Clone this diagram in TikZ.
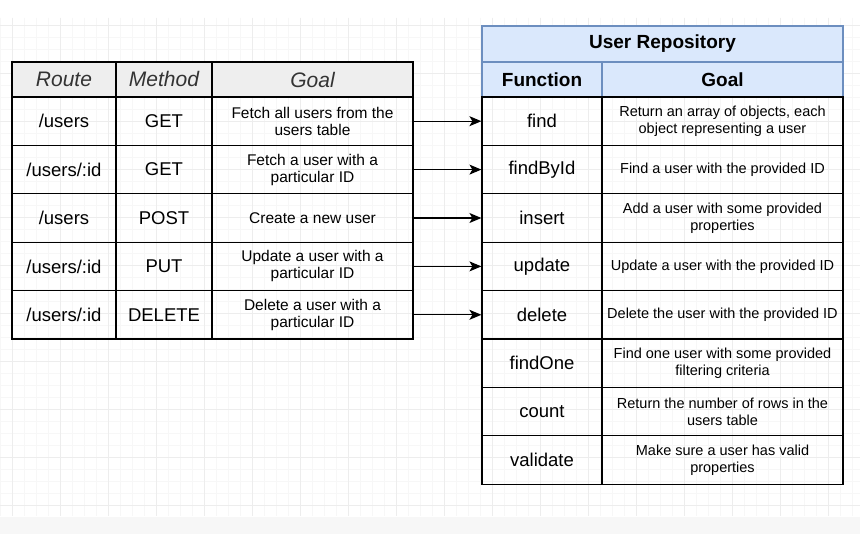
\documentclass[tikz,border=0pt]{standalone}
\usepackage{fontspec}
\setmainfont{Liberation Sans}
\usetikzlibrary{arrows.meta}
\definecolor{gridminor}{HTML}{F7F7F7}
\definecolor{gridmajor}{HTML}{EDEDED}
\definecolor{headgrey}{HTML}{EEEEEE}
\definecolor{headtext}{HTML}{333333}
\definecolor{repofill}{HTML}{DAE8FC}
\definecolor{repoline}{HTML}{6C8EBF}
\tikzset{
  cell/.style={draw, line width=1.2pt, inner sep=0pt, minimum height=48.4pt, align=center,
    font=\fontsize{18.5}{21}\selectfont},
  goalcell/.style={cell, font=\fontsize{15.5}{17}\selectfont},
  repogoal/.style={cell, font=\fontsize{14.5}{17}\selectfont},
  routehead/.style={draw, line width=1.2pt, fill=headgrey, inner sep=0pt, minimum height=35pt,
    text=headtext, font=\fontsize{21}{25}\selectfont\itshape},
  repohead/.style={draw=repoline, line width=1.2pt, fill=repofill, inner sep=0pt, minimum height=35pt,
    font=\fontsize{19}{23}\selectfont\bfseries},
  link/.style={draw, line width=1.2pt, -{Stealth[length=12pt,width=10pt,inset=3pt]}}
}
\begin{document}
\begin{tikzpicture}[x=1pt,y=-1pt]
\useasboundingbox (0,0) rectangle (860,534);
\fill[white] (0,0) rectangle (860,534);
\foreach \x in {0,12,...,860} \draw[gridminor,line width=0.8pt] (\x,18) -- (\x,516);
\foreach \y in {25,37,...,516} \draw[gridminor,line width=0.8pt] (0,\y) -- (860,\y);
\foreach \x in {12,60,...,860} \draw[gridmajor,line width=0.8pt] (\x,18) -- (\x,516);
\foreach \y in {25,73,...,516} \draw[gridmajor,line width=0.8pt] (0,\y) -- (860,\y);
\fill[headgrey!50] (0,517) rectangle (860,534);

% routes table
\node[routehead, minimum width=104pt] (hroute) at (64,79.5) {Route};
\node[routehead, minimum width=96pt] (hmethod) at (164,79.5) {Method};
\node[routehead, minimum width=201pt] (hgoal) at (312.5,79.5) {Goal};

\node[cell, minimum width=104pt] (r1) at (64,121.2) {/users};
\node[cell, minimum width=96pt] (m1) at (164,121.2) {GET};
\node[goalcell, minimum width=201pt] (g1) at (312.5,121.2) {Fetch all users from the\\users table};

\node[cell, minimum width=104pt] (r2) at (64,169.6) {/users/:id};
\node[cell, minimum width=96pt] (m2) at (164,169.6) {GET};
\node[goalcell, minimum width=201pt] (g2) at (312.5,169.6) {Fetch a user with a\\particular ID};

\node[cell, minimum width=104pt] (r3) at (64,218) {/users};
\node[cell, minimum width=96pt] (m3) at (164,218) {POST};
\node[goalcell, minimum width=201pt] (g3) at (312.5,218) {Create a new user};

\node[cell, minimum width=104pt] (r4) at (64,266.4) {/users/:id};
\node[cell, minimum width=96pt] (m4) at (164,266.4) {PUT};
\node[goalcell, minimum width=201pt] (g4) at (312.5,266.4) {Update a user with a\\particular ID};

\node[cell, minimum width=104pt] (r5) at (64,314.8) {/users/:id};
\node[cell, minimum width=96pt] (m5) at (164,314.8) {DELETE};
\node[goalcell, minimum width=201pt] (g5) at (312.5,314.8) {Delete a user with a\\particular ID};

% repository table
\node[repohead, minimum width=361pt, minimum height=36pt] (title) at (662.5,44) {User Repository};
\node[repohead, minimum width=120pt] (hfunc) at (542,79.5) {Function};
\node[repohead, minimum width=241pt] (hrgoal) at (722.5,79.5) {Goal};

\node[cell, minimum width=120pt] (f1) at (542,121.2) {find};
\node[repogoal, minimum width=241pt] (d1) at (722.5,121.2) {Return an array of objects, each\\object representing a user};
\node[cell, minimum width=120pt] (f2) at (542,169.6) {findById};
\node[repogoal, minimum width=241pt] (d2) at (722.5,169.6) {Find a user with the provided ID};
\node[cell, minimum width=120pt] (f3) at (542,218) {insert};
\node[repogoal, minimum width=241pt] (d3) at (722.5,218) {Add a user with some provided\\properties};
\node[cell, minimum width=120pt] (f4) at (542,266.4) {update};
\node[repogoal, minimum width=241pt] (d4) at (722.5,266.4) {Update a user with the provided ID};
\node[cell, minimum width=120pt] (f5) at (542,314.8) {delete};
\node[repogoal, minimum width=241pt] (d5) at (722.5,314.8) {Delete the user with the provided ID};
\node[cell, minimum width=120pt] (f6) at (542,363.2) {findOne};
\node[repogoal, minimum width=241pt] (d6) at (722.5,363.2) {Find one user with some provided\\filtering criteria};
\node[cell, minimum width=120pt] (f7) at (542,411.6) {count};
\node[repogoal, minimum width=241pt] (d7) at (722.5,411.6) {Return the number of rows in the\\users table};
\node[cell, minimum width=120pt] (f8) at (542,460) {validate};
\node[repogoal, minimum width=241pt] (d8) at (722.5,460) {Make sure a user has valid\\properties};

\path[link] (g1) -- (f1);
\path[link] (g2) -- (f2);
\path[link] (g3) -- (f3);
\path[link] (g4) -- (f4);
\path[link] (g5) -- (f5);
\end{tikzpicture}
\end{document}
